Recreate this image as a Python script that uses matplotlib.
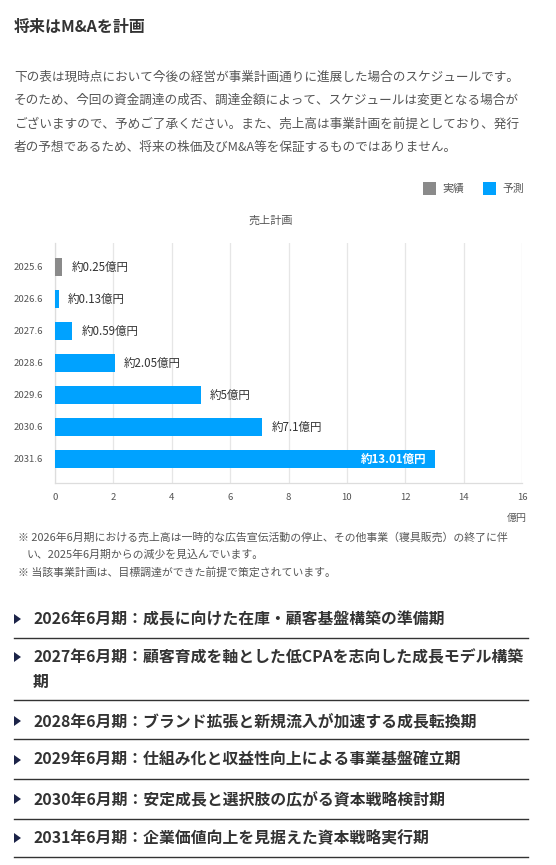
import matplotlib
matplotlib.use("Agg")
import matplotlib.pyplot as plt
from matplotlib.patches import Rectangle, Polygon
from matplotlib.lines import Line2D

plt.rcParams['font.family'] = ['Noto Sans CJK JP', 'DejaVu Sans']

# ---------------- data ----------------
categories = ["2025.6", "2026.6", "2027.6", "2028.6", "2029.6", "2030.6", "2031.6"]
values = [0.25, 0.13, 0.59, 2.05, 5, 7.1, 13.01]
kinds = ["実績", "予測", "予測", "予測", "予測", "予測", "予測"]
value_labels = ["約0.25億円", "約0.13億円", "約0.59億円", "約2.05億円", "約5億円", "約7.1億円", "約13.01億円"]
x_ticks = [0, 2, 4, 6, 8, 10, 12, 14, 16]
legend_names = ["実績", "予測"]
colors = {"実績": "#8a8a8a", "予測": "#00a2ff"}

title = "将来はM&Aを計画"
paragraph = [
    "下の表は現時点において今後の経営が事業計画通りに進展した場合のスケジュールです。",
    "そのため、今回の資金調達の成否、調達金額によって、スケジュールは変更となる場合が",
    "ございますので、予めご了承ください。また、売上高は事業計画を前提としており、発行",
    "者の予想であるため、将来の株価及びM&A等を保証するものではありません。",
]
chart_title = "売上計画"
unit_label = "億円"
footnotes = [
    "※ 2026年6月期における売上高は一時的な広告宣伝活動の停止、その他事業（寝具販売）の終了に伴",
    "い、2025年6月期からの減少を見込んでいます。",
    "※ 当該事業計画は、目標調達ができた前提で策定されています。",
]
schedule = [
    ["2026年6月期：成長に向けた在庫・顧客基盤構築の準備期"],
    ["2027年6月期：顧客育成を軸とした低CPAを志向した成長モデル構築", "期"],
    ["2028年6月期：ブランド拡張と新規流入が加速する成長転換期"],
    ["2029年6月期：仕組み化と収益性向上による事業基盤確立期"],
    ["2030年6月期：安定成長と選択肢の広がる資本戦略検討期"],
    ["2031年6月期：企業価値向上を見据えた資本戦略実行期"],
]

# ---------------- figure ----------------
W, H = 556, 865
fig = plt.figure(figsize=(W / 100, H / 100), dpi=100)
fig.patch.set_facecolor("white")


def fx(px):
    return px / W


def fy(py):
    return 1 - py / H


# Title
fig.text(fx(14), fy(27), title, fontsize=11.5, fontweight="bold", color="#333333",
         ha="left", va="center")

# Paragraph
for i, line in enumerate(paragraph):
    fig.text(fx(14), fy(77 + i * 23.5), line, fontsize=9.1, color="#555555",
             ha="left", va="center")

# Legend (manual)
leg_items = [(423, legend_names[0]), (483, legend_names[1])]
for x0, name in leg_items:
    fig.patches.append(Rectangle((fx(x0), fy(195)), fx(13), 13 / H,
                                 transform=fig.transFigure, facecolor=colors[name],
                                 edgecolor="none"))
    fig.text(fx(x0 + 19), fy(188.5), name, fontsize=7.8, color="#555555",
             ha="left", va="center")

# Chart title
fig.text(fx(271), fy(221), chart_title, fontsize=8, color="#555555", ha="center", va="center")

# Axes
left, right, top, bottom = 55, 522, 243, 483
ax = fig.add_axes([fx(left), fy(bottom), fx(right - left), (bottom - top) / H])
ypos = list(range(len(categories)))
bar_colors = [colors[k] for k in kinds]
bars = ax.barh(ypos, values, height=0.5625, color=bar_colors, zorder=3)
ax.set_xlim(0, 16)
ax.set_ylim(len(categories) - 0.25, -0.75)
ax.set_xticks(x_ticks)
ax.set_xticklabels([str(t) for t in x_ticks])
ax.set_yticks(ypos)
ax.set_yticklabels(categories)
ax.tick_params(axis="both", length=0, labelsize=6.9, colors="#555555")
ax.tick_params(axis="x", pad=7.5)
ax.tick_params(axis="y", pad=8.5)
ax.grid(axis="x", color="#e6e6e6", linewidth=0.9, zorder=0)
for s in ["top", "right"]:
    ax.spines[s].set_visible(False)
for s in ["left", "bottom"]:
    ax.spines[s].set_color("#dddddd")
    ax.spines[s].set_linewidth(0.9)

for y, v, lab in zip(ypos, values, value_labels):
    if v > 10:
        ax.annotate(lab, (v, y), xytext=(-8, 0), textcoords="offset pixels",
                    ha="right", va="center", fontsize=8.3, color="white",
                    fontweight="bold", zorder=4)
    else:
        ax.annotate(lab, (v, y), xytext=(9, 0), textcoords="offset pixels",
                    ha="left", va="center", fontsize=8.3, color="#333333", zorder=4)

fig.text(fx(527), fy(518), unit_label, fontsize=7.2, color="#555555", ha="right", va="center")

# Footnotes
fn_pos = [(18, 537), (27, 554.5), (18, 572.5)]
for (x0, y0), t in zip(fn_pos, footnotes):
    fig.text(fx(x0), fy(y0), t, fontsize=7.85, color="#555555", ha="left", va="center")

# Schedule list
item_y = [619, 657, 721, 760, 799, 838]
sep_y = [638, 700, 739, 779, 819, 857]
line_gap = 25
for lines, y0, sy in zip(schedule, item_y, sep_y):
    fig.patches.append(Polygon([(fx(14), fy(y0 - 5)), (fx(14), fy(y0 + 5)), (fx(21), fy(y0))],
                               closed=True, transform=fig.transFigure,
                               facecolor="#1c2448", edgecolor="none"))
    for j, t in enumerate(lines):
        fig.text(fx(33), fy(y0 + j * line_gap), t, fontsize=11.4, fontweight="bold",
                 color="#333333", ha="left", va="center")
    fig.lines.append(Line2D([fx(14), fx(528)], [fy(sy), fy(sy)], transform=fig.transFigure,
                            color="#333333", linewidth=1.0))

fig.savefig("out.png", dpi=100, facecolor="white")
